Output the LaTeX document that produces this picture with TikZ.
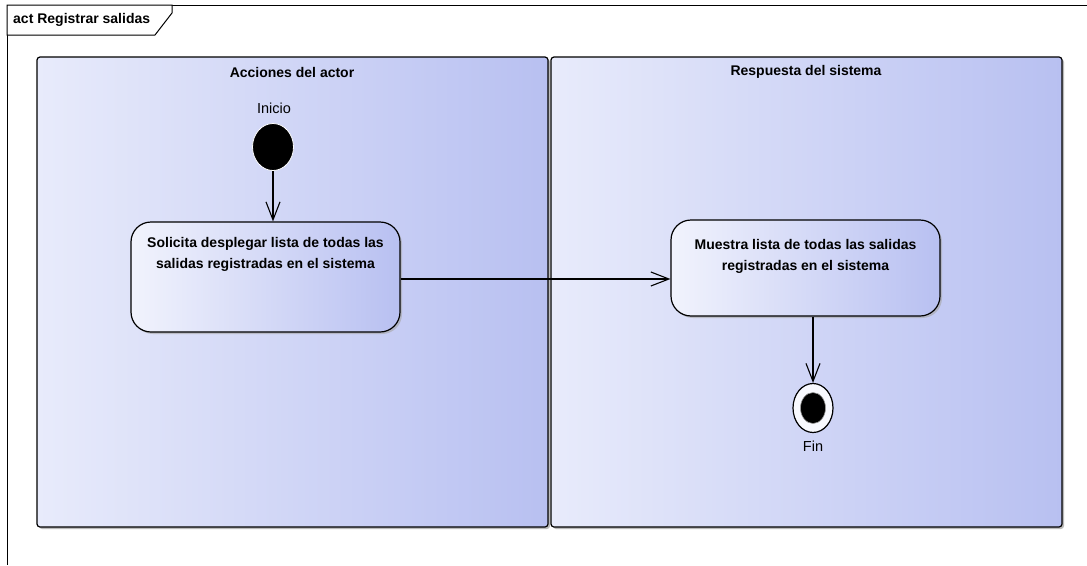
\documentclass[tikz,border=0pt]{standalone}
\usepackage{fontspec}
\setmainfont{Liberation Sans}
\usetikzlibrary{arrows.meta,shapes.geometric,shadows,backgrounds}
\definecolor{lanelt}{RGB}{232,235,251}
\definecolor{lanedk}{RGB}{184,192,241}
\tikzset{
  >={Straight Barb[length=18pt,width=14pt]},
  lane/.style={draw=black,line width=1.2pt,rounded corners=3pt,
    left color=lanelt,right color=lanedk,minimum width=511pt,minimum height=470pt,
    inner sep=0pt,drop shadow={shadow xshift=2pt,shadow yshift=-2pt,fill=black!45,opacity=.6}},
  lanelbl/.style={font=\fontsize{14}{16}\selectfont\bfseries,inner sep=0pt},
  action/.style={draw=black,line width=1.2pt,rounded corners=20pt,
    left color=lanelt!60!white,right color=lanedk,minimum width=269pt,inner sep=0pt,
    drop shadow={shadow xshift=2pt,shadow yshift=-2pt,fill=black!35,opacity=.6}},
  acttxt/.style={font=\fontsize{14}{21}\selectfont\bfseries,align=center,inner sep=0pt},
  initial/.style={ellipse,fill=black,draw=white,line width=0.8pt,
    minimum width=41pt,minimum height=47pt,inner sep=0pt},
  final/.style={ellipse,draw=black,fill=white!70!lanelt,line width=1.2pt,
    minimum width=40pt,minimum height=49pt,inner sep=0pt},
  finaldot/.style={ellipse,fill=black,draw=white!60!black,line width=0.6pt,
    minimum width=25pt,minimum height=31pt,inner sep=0pt},
  small/.style={font=\fontsize{14.5}{16}\selectfont,inner sep=0pt},
  flow/.style={->,line width=1.1pt},
}
\begin{document}
\begin{tikzpicture}[x=1pt,y=-1pt]
  \useasboundingbox (0,0) rectangle (1087,565);
  % diagram frame
  \draw[line width=1pt] (1087,5) -- (7,5) -- (7,565);
  \draw[line width=1pt,fill=white] (7,5) -- (172,5) -- (172,13) -- (155,35) -- (7,35) -- cycle;
  \node[lanelbl,anchor=west] (title) at (13,20) {act Registrar salidas};
  % partitions
  \node[lane] (actor) at (292.5,292) {};
  \node[lane] (sistema) at (806.5,292) {};
  \node[lanelbl] (actorlbl) at (292,72) {Acciones del actor};
  \node[lanelbl] (sistemalbl) at (806,72) {Respuesta del sistema};
  % nodes
  \node[initial] (ini) at (273,147) {};
  \node[small] (inilbl) at (274,108) {Inicio};
  \node[action,minimum height=110pt] (a1) at (265.5,277) {};
  \node[acttxt] (a1txt) at (265.5,254) {Solicita desplegar lista de todas las\\salidas registradas en el sistema};
  \node[action,minimum height=96pt] (a2) at (805.5,268) {};
  \node[acttxt] (a2txt) at (805.5,256) {Muestra lista de todas las salidas\\registradas en el sistema};
  \node[final] (fin) at (813,408) {};
  \node[finaldot] (findot) at (fin.center) {};
  \node[small] (finlbl) at (813,446) {Fin};
  % flows
  \draw[flow] (ini) -- (ini |- a1.north);
  \draw[flow] (a1.east |- 0,279) -- (a2.west |- 0,279);
  \draw[flow] (a2.south -| fin) -- (fin);
\end{tikzpicture}
\end{document}
